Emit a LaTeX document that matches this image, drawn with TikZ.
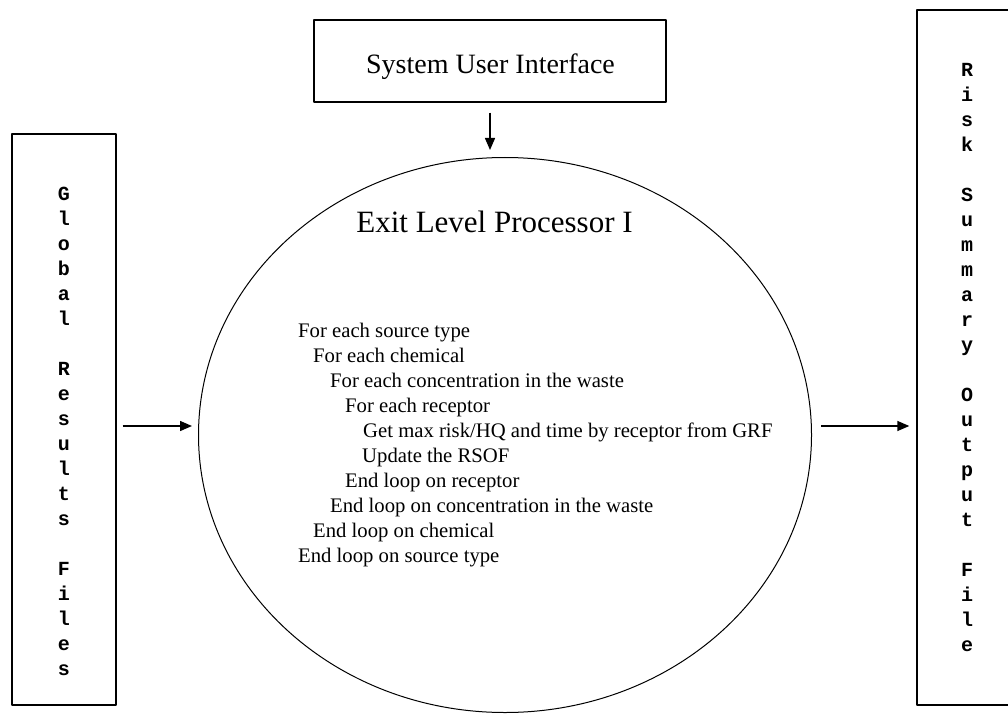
\documentclass[tikz,border=0pt]{standalone}
\usepackage{fontspec}
\setmainfont{Liberation Serif}
\newfontfamily\monofont{Liberation Mono}
\usetikzlibrary{shapes.geometric,arrows.meta}

\begin{document}
\begin{tikzpicture}[x=1pt,y=-1pt,>={Triangle[length=12pt,width=10pt]}, line join=round,
		box/.style={draw,rectangle,line width=1.4pt,inner sep=0pt},
		flow/.style={->,line width=1.4pt},
		vlet/.style={font=\monofont\bfseries\fontsize{20}{25}\selectfont,align=center,inner sep=0pt}]
		\useasboundingbox (0,0) rectangle (1008,714);
		\clip (0,0) rectangle (1008,714);
		% boxes and process
		\node[box,minimum width=352pt,minimum height=82pt] (sui) at (490,61) {};
		\node[anchor=base,font=\fontsize{28}{30}\selectfont] (suitxt) at (490.5,74) {System User Interface};
		\node[draw,ellipse,line width=1pt,minimum width=613pt,minimum height=555pt,inner sep=0pt] (elp) at (505,435) {};
		\node[anchor=base,font=\fontsize{31}{33}\selectfont] (elptitle) at (494.5,232) {Exit Level Processor I};
		\node[box,minimum width=104pt,minimum height=571pt] (grf) at (64,419.5) {};
		\node[box,minimum width=100pt,minimum height=695pt] (rsof) at (967,357.5) {};
		% texts
		\node[vlet,anchor=north] (grftxt) at (64,187) {G\\l\\o\\b\\a\\l\\[25pt]R\\e\\s\\u\\l\\t\\s\\[25pt]F\\i\\l\\e\\s};
		\node[vlet,anchor=north] (rsoftxt) at (967,63) {R\\i\\s\\k\\[25pt]S\\u\\m\\m\\a\\r\\y\\[25pt]O\\u\\t\\p\\u\\t\\[25pt]F\\i\\l\\e};
		\node[anchor=north west,align=left,inner sep=0pt,font=\fontsize{20.7}{25}\selectfont] (elploop) at (298,323) {For each source type\\
			\hspace*{15pt}For each chemical\\
			\hspace*{32pt}For each concentration in the waste\\
			\hspace*{47pt}For each receptor\\
			\hspace*{65pt}Get max risk/HQ and time by receptor from GRF\\
			\hspace*{64pt}Update the RSOF\\
			\hspace*{47pt}End loop on receptor\\
			\hspace*{32pt}End loop on concentration in the waste\\
			\hspace*{15pt}End loop on chemical\\
			End loop on source type};
		% flows
		\draw[flow,shorten <=10pt,shorten >=7pt] (sui.south) -- (sui.south |- elp.north);
		\draw[flow,shorten <=6pt,shorten >=6pt] ([yshift=9pt]elp.west -| grf.east) -- ([yshift=9pt]elp.west);
		\draw[flow,shorten <=9pt,shorten >=7pt] ([yshift=9pt]elp.east) -- ([yshift=9pt]elp.east -| rsof.west);
\end{tikzpicture}
\end{document}
